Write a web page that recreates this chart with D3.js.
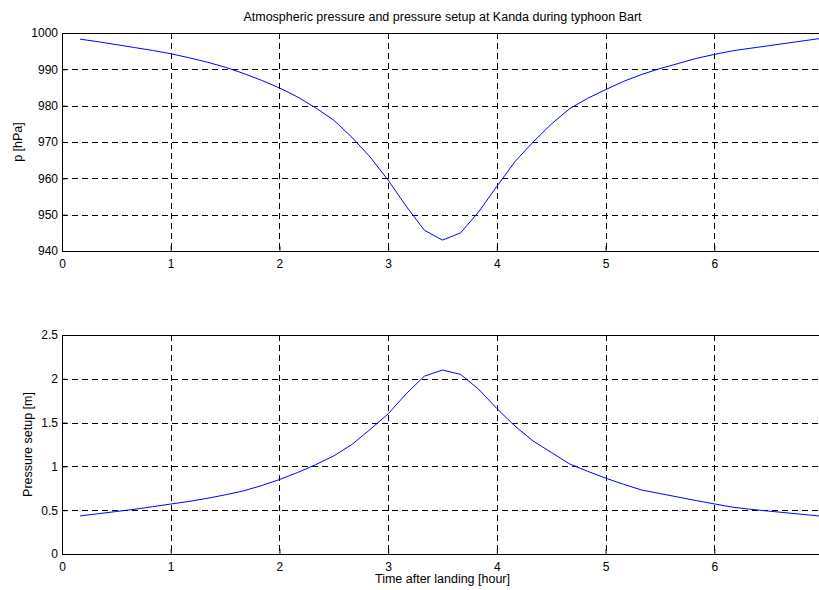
<!DOCTYPE html>
<html>
<head>
<meta charset="utf-8">
<script src="https://cdn.jsdelivr.net/npm/d3@7"></script>
<style>
  body { margin: 0; background: #fff; }
  svg { display: block; font-family: "Liberation Sans", Arial, sans-serif; }
  .grid line { stroke: #000; stroke-dasharray: 6,4; stroke-width: 1; shape-rendering: crispEdges; }
  .frame { fill: none; stroke: #000; stroke-width: 1; shape-rendering: crispEdges; }
  .tick text { font-size: 12px; fill: #000; }
</style>
</head>
<body>
<svg id="chart" width="819" height="590"></svg>
<script>
// time after landing [hour], every 10 minutes
const hours = d3.range(1, 43).map(i => i / 6);

// atmospheric pressure [hPa]
const pressure = [
  998.3, 997.6, 996.8, 996.0, 995.2, 994.3, 993.2, 992.0, 990.6, 988.9,
  987.0, 984.9, 982.4, 979.4, 976.0, 971.3, 965.9, 959.5, 952.3, 945.7,
  943.0, 945.0, 950.8, 957.8, 964.6, 970.0, 974.9, 979.1, 982.0, 984.4,
  986.7, 988.6, 990.2, 991.6, 993.0, 994.1, 995.1, 995.8, 996.5, 997.2,
  997.9, 998.6
];

// pressure setup [m]
const setup = [
  0.435, 0.46, 0.485, 0.51, 0.54, 0.57, 0.60, 0.635, 0.675, 0.72,
  0.78, 0.85, 0.93, 1.02, 1.12, 1.25, 1.42, 1.60, 1.83, 2.03,
  2.10, 2.05, 1.88, 1.66, 1.46, 1.29, 1.16, 1.03, 0.945, 0.866,
  0.795, 0.73, 0.69, 0.65, 0.61, 0.572, 0.535, 0.51, 0.49, 0.47,
  0.45, 0.43
];

const xTicks = [0, 1, 2, 3, 4, 5, 6];
const pTicks = [940, 950, 960, 970, 980, 990, 1000];
const sTicks = [0, 0.5, 1, 1.5, 2, 2.5];

const svg = d3.select('#chart');
const left = 62, right = 823;
const labelSize = 12.5;

const x = d3.scaleLinear().domain([0, 7]).range([left, right]);

function panel(top, bottom, yDomain, yTicks, values, yLabel, yLabelX) {
  const y = d3.scaleLinear().domain(yDomain).range([bottom, top]);
  const g = svg.append('g');

  // grid
  const grid = g.append('g').attr('class', 'grid');
  grid.selectAll('.vx')
    .data(xTicks.slice(1))
    .enter()
    .append('line')
    .attr('x1', d => Math.round(x(d)) + 0.5)
    .attr('x2', d => Math.round(x(d)) + 0.5)
    .attr('y1', top)
    .attr('y2', bottom);
  grid.selectAll('.hy')
    .data(yTicks.slice(1, -1))
    .enter()
    .append('line')
    .attr('x1', left)
    .attr('x2', right)
    .attr('y1', d => Math.round(y(d)) + 0.5)
    .attr('y2', d => Math.round(y(d)) + 0.5);

  // axes, ticks pointing inward
  g.append('g')
    .attr('transform', `translate(0,${bottom})`)
    .call(d3.axisBottom(x).tickValues(xTicks).tickSize(-5).tickPadding(8).tickFormat(d3.format('d')))
    .call(a => a.select('.domain').remove());
  g.append('g')
    .attr('transform', `translate(${left},0)`)
    .call(d3.axisLeft(y).tickValues(yTicks).tickSize(-5).tickPadding(4).tickFormat(d => String(d)))
    .call(a => a.select('.domain').remove());

  g.append('rect')
    .attr('class', 'frame')
    .attr('x', left + 0.5)
    .attr('y', top + 0.5)
    .attr('width', right - left)
    .attr('height', bottom - top);

  const line = d3.line()
    .x((d, i) => x(hours[i]))
    .y(d => y(d));
  g.append('path')
    .datum(values)
    .attr('fill', 'none')
    .attr('stroke', '#0000ff')
    .attr('stroke-width', 1)
    .attr('d', line);

  g.append('text')
    .attr('transform', `translate(${yLabelX},${(top + bottom) / 2}) rotate(-90)`)
    .attr('text-anchor', 'middle')
    .attr('font-size', labelSize)
    .text(yLabel);
}

panel(33, 251, [940, 1000], pTicks, pressure, 'p [hPa]', 22);
panel(335, 554, [0, 2.5], sTicks, setup, 'Pressure setup [m]', 32);

svg.append('text')
  .attr('x', (left + right) / 2)
  .attr('y', 21)
  .attr('text-anchor', 'middle')
  .attr('font-size', labelSize)
  .text('Atmospheric pressure and pressure setup at Kanda during typhoon Bart');

svg.append('text')
  .attr('x', (left + right) / 2)
  .attr('y', 583)
  .attr('text-anchor', 'middle')
  .attr('font-size', labelSize)
  .text('Time after landing [hour]');
</script>
</body>
</html>
